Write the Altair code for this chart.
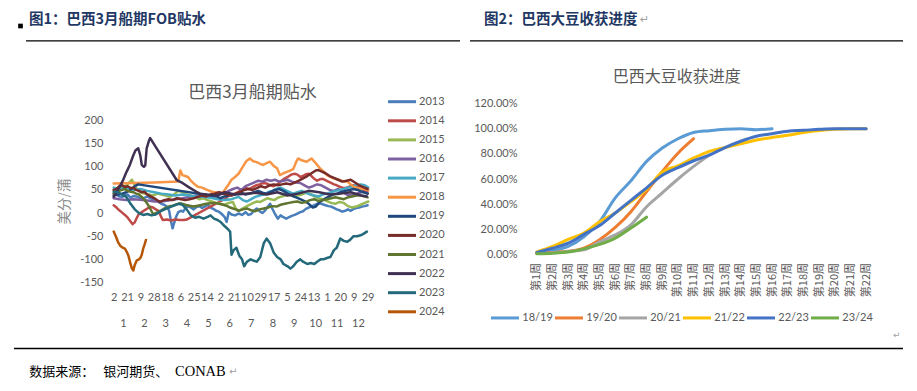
import json
import altair as alt
import pandas as pd

# ================= Figure 1: 巴西3月船期贴水 (美分/蒲) =================
years = ["2013", "2014", "2015", "2016", "2017", "2018",
         "2019", "2020", "2021", "2022", "2023", "2024"]
year_colors = ["#4A7EBB", "#BE4B48", "#98B954", "#7D60A0", "#46AAC5", "#F79646",
               "#1F497D", "#772C2A", "#5F7530", "#403152", "#23697A", "#B65708"]

# (day of year, value)
s2013 = [(2, 42), (6, 40), (10, 36), (14, 35), (18, 38), (22, 40), (26, 33), (30, 37), (34, 36), (38, 34),
         (42, 30), (46, 33), (50, 36), (54, 32), (58, 30), (62, 27), (66, 24), (70, 20), (74, 18), (78, 14),
         (81, 5), (84, -20), (86, -33), (88, -22), (91, -8), (94, 2), (98, 5), (101, 3), (104, 10), (108, 15),
         (112, 12), (116, 8), (120, 13), (124, 15), (128, 11), (132, 14), (136, 18), (140, 12), (144, 9),
         (148, 5), (152, 3), (156, -2), (160, -8), (163, -19), (166, 2), (170, -3), (175, -5), (180, -1),
         (185, -4), (190, 2), (194, -4), (198, -2), (202, 5), (206, 10), (210, 4), (214, 0), (218, 6),
         (222, 14), (225, 20), (228, 10), (232, -2), (236, -12), (240, -5), (244, -9), (248, -12), (252, -9),
         (256, -6), (260, -4), (264, -1), (268, 2), (272, 4), (276, 9), (280, 12), (284, 14), (288, 17),
         (292, 20), (296, 21), (300, 19), (304, 17), (308, 15), (312, 14), (316, 11), (320, 8), (324, 6),
         (328, 3), (332, 5), (336, 8), (340, 5), (344, 9), (348, 11), (352, 12), (356, 14), (360, 15), (364, 17)]
s2014 = [(2, 17), (6, 12), (10, 6), (14, 1), (18, -4), (22, -10), (26, -18), (29, -24), (32, -20), (35, -10),
         (38, -2), (42, 2), (46, 6), (50, 10), (54, 14), (58, 12), (62, 8), (66, 5), (69, -6), (72, -15),
         (78, -14), (84, -16), (90, -14), (96, -15), (102, -15), (106, -14), (162, 32), (166, 38), (170, 40),
         (175, 42), (180, 46), (185, 50), (190, 54), (195, 52), (200, 56), (205, 60), (210, 62), (215, 65),
         (220, 64), (225, 60), (230, 58), (235, 62), (240, 68), (245, 74), (250, 78), (255, 83), (260, 85),
         (264, 83), (268, 78), (272, 80), (276, 84), (280, 85), (284, 80), (288, 74), (292, 70), (296, 73),
         (300, 74), (304, 71), (308, 68), (312, 65), (316, 62), (320, 60), (324, 57), (328, 55), (332, 54),
         (336, 56), (340, 58), (344, 60), (348, 58), (352, 55), (356, 52), (360, 48), (364, 45)]
s2015 = [(2, 50), (8, 52), (14, 55), (20, 60), (24, 66), (28, 72), (32, 60), (36, 50), (40, 45), (46, 42),
         (52, 40), (58, 38), (64, 42), (70, 40), (76, 38), (82, 35), (88, 40), (94, 48), (100, 45), (106, 40),
         (112, 38), (118, 35), (124, 30), (130, 32), (136, 28), (142, 25), (148, 22), (154, 20), (160, 18),
         (166, 22), (172, 24), (176, 10), (180, 5), (184, 8), (188, 12), (192, 15), (196, 18), (201, 22),
         (206, 25), (211, 24), (216, 28), (221, 32), (226, 30), (231, 28), (236, 33), (240, 35), (246, 38),
         (252, 40), (258, 36), (264, 38), (270, 40), (276, 44), (282, 42), (288, 36), (294, 32), (300, 30),
         (306, 26), (312, 22), (318, 20), (324, 24), (330, 22), (336, 15), (342, 12), (348, 14), (354, 18),
         (360, 22), (365, 25)]
s2016 = [(2, 32), (10, 30), (20, 28), (30, 30), (40, 29), (50, 27), (60, 25), (70, 25), (80, 27), (90, 30),
         (100, 32), (110, 35), (120, 38), (130, 36), (140, 38), (150, 40), (160, 42), (166, 48), (172, 52),
         (178, 55), (184, 50), (190, 58), (196, 62), (202, 66), (208, 70), (214, 68), (220, 72), (226, 70),
         (232, 72), (238, 68), (244, 70), (250, 72), (256, 68), (262, 66), (268, 65), (274, 60), (280, 55),
         (286, 58), (292, 62), (298, 60), (304, 55), (310, 50), (316, 48), (322, 52), (328, 46), (334, 40),
         (340, 38), (346, 40), (352, 44), (358, 46), (364, 42)]
s2017 = [(2, 55), (10, 52), (20, 55), (30, 50), (40, 52), (50, 48), (60, 45), (70, 42), (80, 40), (90, 38),
         (100, 40), (110, 38), (120, 36), (130, 35), (140, 33), (150, 30), (160, 28), (170, 30), (180, 35),
         (186, 28), (192, 25), (198, 30), (204, 35), (210, 38), (216, 40), (222, 45), (228, 48), (234, 52),
         (240, 55), (246, 50), (252, 46), (258, 42), (264, 45), (270, 48), (276, 44), (282, 40), (288, 38),
         (294, 36), (300, 40), (306, 42), (312, 45), (318, 48), (324, 50), (330, 52), (336, 55), (342, 57),
         (348, 60), (354, 62), (360, 60), (365, 55)]
s2018 = [(2, 64), (30, 65), (60, 66), (94, 68), (97, 92), (100, 82), (104, 80), (108, 78), (112, 70),
         (116, 64), (122, 57), (128, 55), (135, 50), (142, 46), (150, 44), (158, 45), (165, 60), (170, 72),
         (175, 78), (180, 85), (186, 100), (191, 112), (196, 118), (201, 112), (206, 110), (211, 106),
         (215, 104), (220, 108), (225, 111), (230, 102), (235, 97), (239, 82), (244, 86), (249, 89),
         (254, 92), (258, 95), (262, 110), (265, 118), (270, 114), (277, 111), (284, 118), (290, 108),
         (296, 97), (301, 90), (306, 82), (311, 78), (315, 75), (320, 73), (325, 71), (330, 68), (335, 68),
         (340, 62), (344, 57), (350, 54), (355, 53), (360, 52), (365, 50)]
s2019 = [(2, 38), (8, 40), (14, 42), (20, 45), (26, 50), (32, 58), (37, 62), (149, 36), (154, 32), (160, 36),
         (166, 38), (172, 40), (178, 42), (184, 44), (190, 40), (196, 42), (202, 45), (208, 48), (214, 44),
         (220, 42), (226, 46), (232, 50), (238, 52), (244, 48), (250, 42), (256, 38), (262, 34), (268, 30),
         (274, 26), (280, 20), (286, 12), (290, 14), (296, 24), (302, 30), (308, 35), (314, 40), (320, 42),
         (326, 45), (332, 48), (338, 50), (344, 52), (350, 50), (356, 46), (364, 42)]
s2020 = [(2, 50), (6, 52), (10, 58), (14, 60), (18, 56), (22, 58), (26, 54), (30, 55), (34, 50), (38, 48),
         (42, 45), (46, 46), (50, 40), (56, 35), (62, 30), (68, 24), (74, 28), (80, 30), (86, 28), (92, 32),
         (98, 30), (104, 28), (110, 30), (116, 32), (122, 35), (128, 38), (134, 36), (140, 40), (146, 42),
         (152, 45), (158, 42), (164, 40), (170, 38), (176, 42), (182, 45), (188, 50), (194, 52), (200, 50),
         (206, 54), (212, 58), (218, 55), (224, 60), (230, 62), (236, 60), (242, 62), (248, 64), (254, 62),
         (260, 66), (266, 70), (272, 75), (278, 80), (284, 86), (290, 92), (294, 93), (298, 90), (304, 86),
         (310, 80), (316, 76), (322, 72), (328, 68), (334, 70), (340, 72), (346, 66), (352, 60), (358, 56),
         (364, 52)]
s2021 = [(2, 42), (6, 45), (10, 48), (14, 50), (18, 52), (22, 48), (26, 46), (30, 45), (34, 42), (38, 40),
         (42, 35), (46, 28), (50, 20), (54, 10), (58, -2), (62, 0), (66, 3), (70, 6), (74, 10), (78, 12),
         (82, 15), (86, 16), (90, 18), (94, 20), (98, 21), (104, 18), (110, 16), (116, 14), (122, 16),
         (128, 18), (134, 20), (140, 21), (146, 22), (152, 20), (158, 18), (164, 15), (168, 12), (172, 10),
         (176, 8), (180, 5), (186, 8), (192, 10), (198, 6), (204, 4), (210, 8), (216, 10), (222, 12),
         (228, 15), (234, 14), (240, 18), (246, 20), (252, 22), (258, 24), (264, 25), (270, 22), (276, 24),
         (282, 28), (288, 30), (294, 26), (300, 28), (306, 30), (312, 32), (318, 34), (324, 32), (330, 30),
         (336, 34), (342, 36), (348, 38), (354, 38), (360, 36), (364, 34)]
s2022 = [(2, 35), (6, 46), (10, 55), (15, 70), (20, 88), (25, 104), (30, 125), (33, 135), (37, 140),
         (40, 124), (42, 104), (45, 100), (47, 103), (49, 140), (52, 155), (54, 162), (92, 71), (100, 65),
         (110, 55), (120, 46), (125, 42), (135, 40), (150, 38), (160, 45), (175, 40), (190, 42), (205, 44),
         (220, 40), (235, 45), (250, 38), (265, 42), (280, 48), (295, 45), (310, 40), (325, 42), (340, 45),
         (355, 38), (363, 36)]
s2023 = [(2, 46), (8, 45), (14, 40), (20, 35), (26, 20), (32, 8), (38, 0), (44, -4), (50, -2), (56, -5),
         (62, -3), (70, 5), (78, 10), (86, 15), (94, 20), (100, 18), (106, 8), (112, -5), (118, -10),
         (124, -8), (130, -12), (136, -8), (140, -5), (145, -12), (150, -15), (155, -20), (160, -28),
         (165, -35), (168, -40), (170, -90), (173, -80), (177, -75), (181, -92), (185, -100), (188, -115),
         (192, -105), (197, -100), (202, -103), (206, -105), (211, -95), (216, -65), (220, -55), (225, -65),
         (230, -85), (235, -95), (240, -100), (244, -110), (250, -115), (254, -120), (258, -115), (263, -105),
         (268, -100), (272, -105), (278, -110), (283, -108), (288, -110), (292, -105), (297, -100),
         (301, -100), (306, -97), (311, -95), (316, -80), (320, -75), (325, -55), (330, -60), (335, -62),
         (339, -58), (344, -50), (349, -50), (354, -48), (358, -45), (363, -40)]
s2024 = [(2, -40), (5, -50), (8, -62), (11, -70), (14, -74), (18, -77), (21, -85), (23, -92), (26, -110),
         (28, -120), (30, -124), (32, -112), (35, -102), (38, -100), (40, -97), (42, -90), (44, -77),
         (46, -68), (48, -58)]
series_left = [s2013, s2014, s2015, s2016, s2017, s2018, s2019, s2020, s2021, s2022, s2023, s2024]

day_ticks = [2, 21, 40, 59, 78, 97, 116, 135, 154, 173, 192, 211, 230, 249, 268, 287, 306, 325, 344, 364]
day_labels = ["2", "21", "9", "28", "18", "6", "25", "14", "2", "21", "10", "29", "17", "5", "24", "13",
              "1", "20", "9", "29"]
month_labels = ["1", "2", "3", "4", "5", "6", "7", "8", "9", "10", "11", "12"]
month_lengths = [31, 29, 31, 30, 31, 30, 31, 31, 30, 31, 30, 31]
y_ticks_left = [-150, -100, -50, 0, 50, 100, 150, 200]

# ================= Figure 2: 巴西大豆收获进度 =================
weeks = ["第1周", "第2周", "第3周", "第4周", "第5周", "第6周", "第7周", "第8周", "第9周", "第10周", "第11周",
         "第12周", "第13周", "第14周", "第15周", "第16周", "第17周", "第18周", "第19周", "第20周", "第21周", "第22周"]
seasons = ["18/19", "19/20", "20/21", "21/22", "22/23", "23/24"]
season_colors = ["#5B9BD5", "#ED7D31", "#A5A5A5", "#FFC000", "#4472C4", "#70AD47"]
p1819 = [0.01, 0.03, 0.064, 0.14, 0.26, 0.45, 0.586, 0.74, 0.846, 0.92, 0.97, 0.984, 0.995, 1.0, 0.992, 1.0]
p1920 = [0.01, 0.015, 0.025, 0.05, 0.117, 0.215, 0.34, 0.50, 0.66, 0.805, 0.92]
p2021 = [0.008, 0.013, 0.024, 0.037, 0.10, 0.156, 0.236, 0.38, 0.49, 0.60, 0.70, 0.79]
p2122 = [0.02, 0.064, 0.12, 0.17, 0.26, 0.33, 0.42, 0.52, 0.655, 0.705, 0.767, 0.82, 0.85, 0.88, 0.91,
         0.93, 0.947, 0.97, 0.985, 0.995, 1.0, 1.0]
p2223 = [0.016, 0.05, 0.09, 0.16, 0.23, 0.33, 0.43, 0.53, 0.63, 0.69, 0.745, 0.79, 0.85, 0.90, 0.94, 0.96,
         0.98, 0.987, 0.995, 1.0, 1.0, 1.0]
p2324 = [0.005, 0.01, 0.02, 0.045, 0.08, 0.13, 0.21, 0.297]
series_right = [p1819, p1920, p2021, p2122, p2223, p2324]
y_ticks_right = [0, 0.2, 0.4, 0.6, 0.8, 1.0, 1.2]

# ================= texts =================
header1 = "图1：巴西3月船期FOB贴水"
header2 = "图2：巴西大豆收获进度"
title1 = "巴西3月船期贴水"
title2 = "巴西大豆收获进度"
ytitle1 = "美分/蒲"
footer_a = "数据来源："
footer_b = "银河期货、"
footer_c = "CONAB"
para = "↵"

# ================= build tables =================
rows = []
for yr, pts in zip(years, series_left):
    for d, v in pts:
        rows.append({"year": yr, "day": d, "val": v})
df_left = pd.DataFrame(rows)

mid = []
start = 0
for lab, ln in zip(month_labels, month_lengths):
    mid.append({"day": start + (ln + 1) / 2, "m": lab})
    start += ln
df_month = pd.DataFrame(mid)

rows = []
for s, vals in zip(seasons, series_right):
    for w, v in zip(weeks, vals):
        rows.append({"season": s, "week": w, "pct": v})
df_right = pd.DataFrame(rows)

# ================= style =================
NUM = "Lato"
CJK = "Noto Sans CJK SC"
GRAY = "#595959"
NAVY = "#1F3864"
WL, HL = 256, 179
WR, HR = 345, 151


def one(text):
    return pd.DataFrame({"t": [text]})


def txt(text, x, y, **kw):
    return alt.Chart(one(text)).mark_text(**kw).encode(
        text="t:N", x=alt.value(x), y=alt.value(y))


def hrule(x1, x2, y, width=1.3):
    return alt.Chart(one("r")).mark_rule(color="black", strokeWidth=width).encode(
        x=alt.value(x1), x2=alt.value(x2), y=alt.value(y))


# ---------- left panel ----------
xL = alt.X("day:Q",
           scale=alt.Scale(domain=[1, 366], nice=False, zero=False),
           axis=alt.Axis(values=day_ticks,
                         labelExpr=f"{json.dumps(day_labels)}[indexof({json.dumps(day_ticks)}, datum.value)]",
                         title=None, domain=False, ticks=False, grid=False, labelOverlap=False,
                         labelFlush=False, labelBound=False, labelPadding=9,
                         labelFont=NUM, labelFontSize=11, labelColor=GRAY))
yL = alt.Y("val:Q",
           scale=alt.Scale(domain=[-150, 236.73], nice=False, zero=False),
           axis=alt.Axis(values=y_ticks_left, labelExpr="'' + datum.value", title=None,
                         domain=False, ticks=False, grid=False, labelPadding=10,
                         labelFont=NUM, labelFontSize=11, labelColor=GRAY))
colorL = alt.Color("year:N",
                   scale=alt.Scale(domain=years, range=year_colors),
                   legend=alt.Legend(orient="none", legendX=273.5, legendY=-10.3, title=None,
                                     direction="vertical", symbolType="M-1,0H3", symbolSize=196,
                                     symbolStrokeWidth=3, symbolOffset=0, labelOffset=15.5,
                                     rowPadding=4.1, padding=0, labelFont=NUM, labelFontSize=11,
                                     labelColor=GRAY))

lines_left = alt.Chart(df_left).mark_line(strokeWidth=2.5, strokeJoin="round", strokeCap="round").encode(
    x=xL, y=yL, color=colorL)
months_txt = alt.Chart(df_month).mark_text(font=NUM, fontSize=11, color=GRAY, baseline="middle").encode(
    x=xL, y=alt.value(220), text="m:N")

square = alt.Chart(one("s")).mark_square(size=22, color="black", opacity=1).encode(
    x=alt.value(-92.5), y=alt.value(-77.5))

left = alt.layer(
    lines_left, months_txt, square,
    txt(header1, -84, -84, font=CJK, fontSize=14.5, fontWeight="bold", color=NAVY, align="left",
        baseline="middle"),
    hrule(-87, 347, -62.7),
    txt(title1, 139.5, -10.3, font=CJK, fontSize=17, color=GRAY, align="center", baseline="middle"),
    txt(ytitle1, -48, 98, font=CJK, fontSize=13.5, color="#8C8C8C", align="center", baseline="middle",
        angle=270),
    hrule(-99, 790, 245),
    txt(footer_a, -83.7, 268.5, font=CJK, fontSize=13, color="black", align="left", baseline="middle"),
    txt(footer_b, -9.7, 268.5, font=CJK, fontSize=13, color="black", align="left", baseline="middle"),
    txt(footer_c, 62, 268.5, font="Liberation Serif", fontSize=14.5, color="black", align="left",
        baseline="middle"),
    txt(para, 116, 268.5, font="DejaVu Sans", fontSize=10, color="#A0A0A0", align="left", baseline="middle"),
    txt(para, 780, 231, font="DejaVu Sans", fontSize=9, color="#A0A0A0", align="left", baseline="middle"),
).properties(width=WL, height=HL)

# ---------- right panel ----------
xR = alt.X("week:O",
           scale=alt.Scale(domain=weeks, type="point", padding=0.5),
           axis=alt.Axis(title=None, labelAngle=270, domain=False, ticks=False, grid=False,
                         labelPadding=8, labelFont=CJK, labelFontSize=11, labelColor=GRAY))
yR = alt.Y("pct:Q",
           scale=alt.Scale(domain=[0, 1.2], nice=False),
           axis=alt.Axis(values=y_ticks_right, format=".2%", title=None, domain=False, ticks=False,
                         grid=False, labelPadding=12, labelFont=NUM, labelFontSize=11, labelColor=GRAY))
colorR = alt.Color("season:N",
                   scale=alt.Scale(domain=seasons, range=season_colors),
                   legend=alt.Legend(orient="none", legendX=-39.5, legendY=205.7, title=None,
                                     direction="horizontal", symbolType="M-1,0H3", symbolSize=196,
                                     symbolStrokeWidth=3, symbolOffset=0, labelOffset=15.8,
                                     columnPadding=-6, padding=0, labelFont=NUM, labelFontSize=11,
                                     labelColor=GRAY))

lines_right = alt.Chart(df_right).mark_line(strokeWidth=3, interpolate="monotone",
                                            strokeJoin="round", strokeCap="round").encode(
    x=xR, y=yR, color=colorR)

right = alt.layer(
    lines_right,
    txt(header2, -45, -84, font=CJK, fontSize=14.5, fontWeight="bold", color=NAVY, align="left",
        baseline="middle"),
    txt(para, 111, -84, font="DejaVu Sans", fontSize=11, color="#A0A0A0", align="left", baseline="middle"),
    hrule(-59, 374, -62.7),
    txt(title2, 147.7, -27, font=CJK, fontSize=16, color=GRAY, align="center", baseline="middle"),
).properties(width=WR, height=HR)

chart = alt.hconcat(left, right, spacing=160, bounds="flush").resolve_scale(
    color="independent").properties(
    padding={"left": 5, "top": 3.5, "right": 0, "bottom": 0}).configure_view(stroke=None)

chart.save("out.html", embed_options={"renderer": "svg", "actions": False})
